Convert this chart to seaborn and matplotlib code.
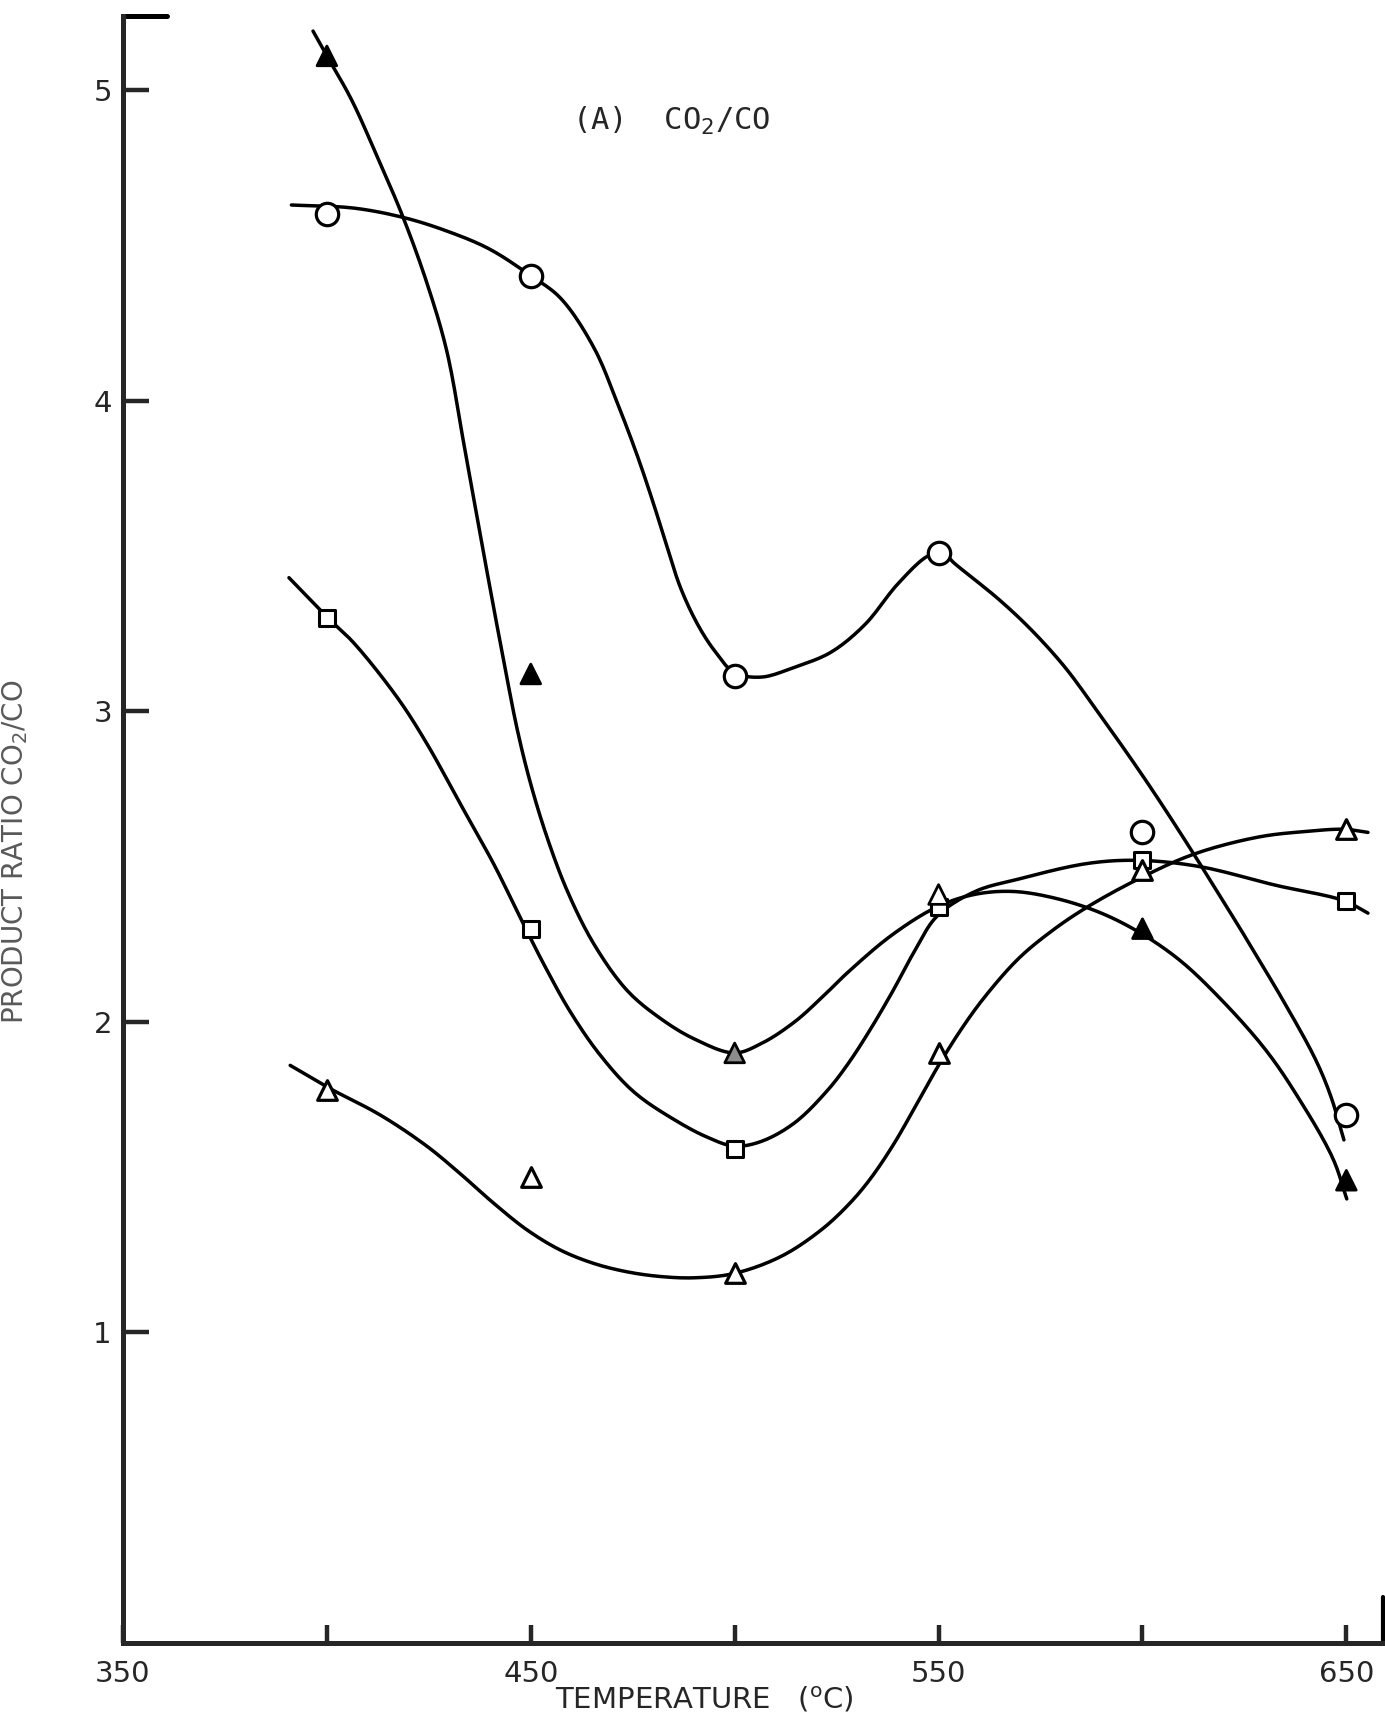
import matplotlib
matplotlib.use("Agg")
import matplotlib.pyplot as plt
import seaborn as sns
import numpy as np

# measured points (temperature in C, ratio CO2/CO)
temps = [400, 450, 500, 550, 600, 650]
circle_pts = [4.60, 4.40, 3.115, 3.51, 2.61, 1.70]
square_pts = [3.30, 2.30, 1.59, 2.37, 2.52, 2.39]
tri_fill_pts = [5.11, 3.12, 1.90, 2.41, 2.30, 1.49]
tri_open_pts = [1.78, 1.50, 1.19, 1.90, 2.49, 2.62]
tri_fill_faces = ['black', 'black', '0.55', 'white', 'black', 'black']

# hand drawn curves
circle_cx = [391.3, 406.6, 418.7, 428.6, 439.6, 449.7, 457.3, 465.5, 471.3, 476.2, 480.3, 483.5,
             486.8, 490.9, 495, 499.9, 506.5, 514.7, 523.6, 532, 540, 547.4, 551, 554, 564.8,
             572.9, 581.1, 589.2, 597.3, 604, 612.6, 619, 624.2, 629, 634, 642.4, 646.2, 649.4]
circle_cy = [4.63, 4.62, 4.59, 4.55, 4.49, 4.405, 4.33, 4.17, 3.99, 3.82, 3.66, 3.525,
             3.395, 3.28, 3.196, 3.125, 3.11, 3.142, 3.19, 3.28, 3.41, 3.50, 3.51, 3.475, 3.36,
             3.26, 3.14, 2.995, 2.845, 2.715, 2.54, 2.405, 2.295, 2.19, 2.08, 1.88, 1.76, 1.62]

tri_fill_cx = [396.6, 400, 406, 412.2, 418.7, 424.5, 429.4, 433.6, 436.9, 440.1, 443.4, 446.7,
               450, 454.1, 459, 465.5, 473.7, 481.9, 490.1, 499.9, 506.5, 514.7, 521.5, 527.8,
               538.6, 549.6, 558.7, 568, 578, 589, 599, 609, 618.7, 630.2, 638.5, 646.7, 650.1]
tri_fill_cy = [5.19, 5.11, 4.97, 4.79, 4.59, 4.38, 4.16, 3.86, 3.62, 3.39, 3.16, 2.94,
               2.765, 2.59, 2.42, 2.25, 2.10, 2.01, 1.945, 1.90, 1.93, 2.00, 2.08, 2.16,
               2.28, 2.37, 2.41, 2.42, 2.40, 2.355, 2.29, 2.20, 2.08, 1.91, 1.75, 1.56, 1.43]

square_cx = [390.7, 400.3, 406.6, 417.5, 424.6, 432.8, 441, 448.3, 453.3, 459.8, 467.2, 475.4,
             485.2, 493.4, 499.9, 506.5, 514.7, 522.8, 527.8, 533, 538.6, 544, 549.6, 559, 569.7,
             586.5, 599, 614, 632.6, 649.4, 655.3]
square_cy = [3.43, 3.30, 3.22, 3.04, 2.894, 2.70, 2.506, 2.312, 2.183, 2.03, 1.89, 1.773,
             1.685, 1.628, 1.60, 1.615, 1.675, 1.78, 1.865, 1.97, 2.095, 2.225, 2.34, 2.42, 2.46,
             2.51, 2.52, 2.50, 2.44, 2.39, 2.35]

tri_open_cx = [391, 400.8, 413.1, 424.5, 432.8, 441, 449.1, 457.3, 465.5, 473.7, 481.9, 490.1,
               499.9, 511.4, 521.2, 527.8, 533, 538.7, 544, 550, 555.5, 561.3, 569.7, 578,
               586.5, 599, 612.6, 628.4, 640, 649.4, 655.3]
tri_open_cy = [1.86, 1.785, 1.70, 1.60, 1.51, 1.415, 1.33, 1.265, 1.222, 1.195, 1.18, 1.176,
               1.19, 1.245, 1.33, 1.41, 1.49, 1.60, 1.72, 1.86, 1.975, 2.08, 2.205, 2.295,
               2.37, 2.46, 2.54, 2.595, 2.613, 2.62, 2.61]

xtick_vals = [350, 400, 450, 500, 550, 600, 650]
xtick_text = ['350', '', '450', '', '550', '', '650']
ytick_vals = [1, 2, 3, 4, 5]


def smooth(cx, cy, n=12):
	# centripetal catmull-rom through the read points, only for drawing a smooth pen line
	# (parametrised in screen-like units so the steep parts don't overshoot)
	p = np.column_stack([np.asarray(cx) / 100.0 * 4.07, np.asarray(cy) * 3.1075])
	p = np.vstack([2 * p[0] - p[1], p, 2 * p[-1] - p[-2]])
	out = []
	for i in range(1, len(p) - 2):
		p0, p1, p2, p3 = p[i - 1], p[i], p[i + 1], p[i + 2]
		t0 = 0.0
		t1 = t0 + np.linalg.norm(p1 - p0) ** 0.5
		t2 = t1 + np.linalg.norm(p2 - p1) ** 0.5
		t3 = t2 + np.linalg.norm(p3 - p2) ** 0.5
		for t in np.linspace(t1, t2, n, endpoint=False):
			a1 = (t1 - t) / (t1 - t0) * p0 + (t - t0) / (t1 - t0) * p1
			a2 = (t2 - t) / (t2 - t1) * p1 + (t - t1) / (t2 - t1) * p2
			a3 = (t3 - t) / (t3 - t2) * p2 + (t - t2) / (t3 - t2) * p3
			b1 = (t2 - t) / (t2 - t0) * a1 + (t - t0) / (t2 - t0) * a2
			b2 = (t3 - t) / (t3 - t1) * a2 + (t - t1) / (t3 - t1) * a3
			out.append((t2 - t) / (t2 - t1) * b1 + (t - t1) / (t2 - t1) * b2)
	out.append(p[-2])
	out = np.array(out)
	return out[:, 0] * 100.0 / 4.07, out[:, 1] / 3.1075


sns.set_style("ticks")
plt.rcParams['font.family'] = ['DejaVu Sans']
plt.rcParams['mathtext.fontset'] = 'dejavusans'

fig = plt.figure(figsize=(13.85, 17.25), dpi=100)
ax = fig.add_axes([0.0888, 0.0475, 0.9098, 0.9435])

lw = 2.5
for cx, cy in [(circle_cx, circle_cy), (tri_fill_cx, tri_fill_cy),
               (square_cx, square_cy), (tri_open_cx, tri_open_cy)]:
	sx, sy = smooth(cx, cy)
	sns.lineplot(x=sx, y=sy, ax=ax, sort=False, estimator=None, color='black', lw=lw)

sns.scatterplot(x=temps, y=circle_pts, ax=ax, marker='o', s=260, facecolor='white',
                edgecolor='black', linewidth=2.3, zorder=5)
sns.scatterplot(x=temps, y=square_pts, ax=ax, marker='s', s=120, facecolor='white',
                edgecolor='black', linewidth=2.2, zorder=5)
ax.scatter(temps, tri_fill_pts, marker='^', s=200, c=tri_fill_faces,
           edgecolors='black', linewidths=2.0, zorder=5)
sns.scatterplot(x=temps, y=tri_open_pts, ax=ax, marker='^', s=200, facecolor='white',
                edgecolor='black', linewidth=2.3, zorder=5)

ax.set_xlim(350, 659)
ax.set_ylim(0, 5.24)
sns.despine(ax=ax)
for sp in ['left', 'bottom']:
	ax.spines[sp].set_linewidth(3.6)
ax.set_xticks(xtick_vals)
ax.set_xticklabels(xtick_text)
ax.set_yticks(ytick_vals)
ax.tick_params(axis='x', direction='in', length=13, width=3.2, labelsize=21, pad=12)
ax.tick_params(axis='y', direction='in', length=19, width=3.2, labelsize=21, pad=8)

# top bar and right end mark of the frame
ax.plot([0, 0.035], [1, 1], transform=ax.transAxes, color='black', lw=3.6, clip_on=False)
ax.plot([1, 1], [0, 0.028], transform=ax.transAxes, color='black', lw=3.0, clip_on=False)

ax.text(460, 4.90, '(A)  CO$_2$/CO', fontsize=22, family=['DejaVu Sans Mono'],
        ha='left', va='center')
ax.set_xlabel('TEMPERATURE   ($^{\\mathrm{o}}$C)', fontsize=21)
ax.xaxis.set_label_coords(0.461, -0.026)
ax.set_ylabel('PRODUCT RATIO CO$_2$/CO', fontsize=20, color='0.35')
ax.yaxis.set_label_coords(-0.074, 0.486)

fig.savefig('out.png', dpi=100, facecolor='white')
